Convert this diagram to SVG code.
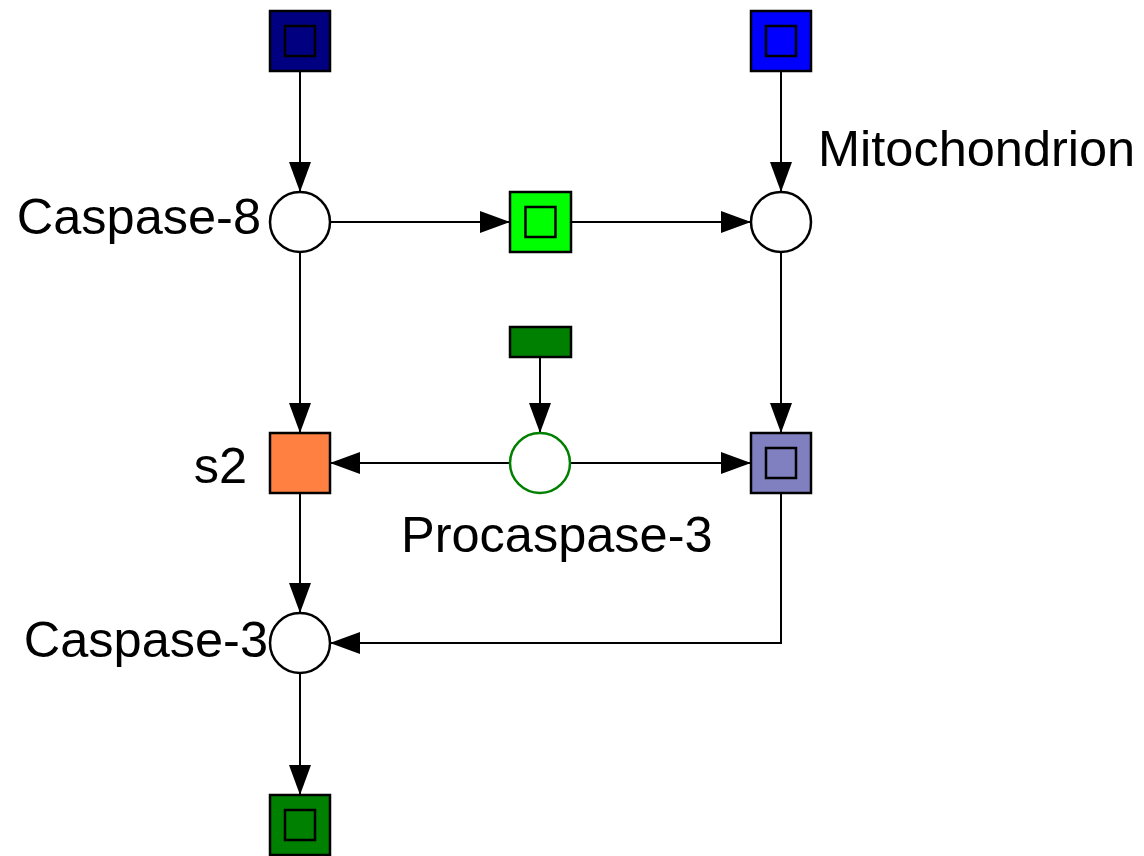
<svg xmlns="http://www.w3.org/2000/svg" width="1144" height="856" viewBox="0 0 1144 856">
<defs>
<style>
.sq{stroke:#000;stroke-width:2.5}
.in{fill:none;stroke:#000;stroke-width:2.5}
.pl{fill:#fff;stroke:#000;stroke-width:2.5}
.lbl{font-family:"Liberation Sans",Arial,sans-serif;font-size:50.5px;fill:#000}
.cn{fill:none;stroke:#000;stroke-width:2}
</style>
<marker id="ah" markerUnits="userSpaceOnUse" markerWidth="32" markerHeight="24" refX="30" refY="11" orient="auto">
<path d="M0,0 L30,11 L0,22 z" fill="#000"/>
</marker>
</defs>
<rect width="1144" height="856" fill="#fff"/>
<g id="connectors">
<path class="cn" d="M300,71 V192" marker-end="url(#ah)"/>
<path class="cn" d="M781,71 V192" marker-end="url(#ah)"/>
<path class="cn" d="M330,222 H510" marker-end="url(#ah)"/>
<path class="cn" d="M571,222 H751" marker-end="url(#ah)"/>
<path class="cn" d="M300,252 V433" marker-end="url(#ah)"/>
<path class="cn" d="M781,252 V433" marker-end="url(#ah)"/>
<path class="cn" d="M540,357 V433" marker-end="url(#ah)"/>
<path class="cn" d="M510,463 H330" marker-end="url(#ah)"/>
<path class="cn" d="M570,463 H751" marker-end="url(#ah)"/>
<path class="cn" d="M300,493 V613" marker-end="url(#ah)"/>
<path class="cn" d="M781,493 V643 H330" marker-end="url(#ah)"/>
<path class="cn" d="M300,673 V795" marker-end="url(#ah)"/>
</g>
<g id="t-top-left"><rect class="sq" x="270" y="11" width="60" height="60" fill="#000080"/><rect class="in" x="285" y="26" width="30" height="30"/></g>
<g id="t-top-right"><rect class="sq" x="751" y="11" width="60" height="60" fill="#0000ff"/><rect class="in" x="766" y="26" width="30" height="30"/></g>
<g id="caspase-8"><circle class="pl" cx="300" cy="222" r="30"/><text class="lbl" x="261" y="234" text-anchor="end">Caspase-8</text></g>
<g id="t-green"><rect class="sq" x="510" y="192" width="61" height="60" fill="#00ff00"/><rect class="in" x="525.5" y="207" width="30" height="30"/></g>
<g id="mitochondrion"><circle class="pl" cx="781" cy="222" r="30"/><text class="lbl" x="818" y="166">Mitochondrion</text></g>
<g id="t-darkgreen-bar"><rect class="sq" x="510" y="327" width="61" height="30" fill="#008000"/></g>
<g id="s2"><rect class="sq" x="270" y="433" width="60" height="60" fill="#ff8040"/><text class="lbl" x="247" y="483" text-anchor="end">s2</text></g>
<g id="procaspase-3"><circle cx="540" cy="463" r="30" fill="#fff" stroke="#008000" stroke-width="2.5"/><text class="lbl" x="401" y="552">Procaspase-3</text></g>
<g id="t-purple"><rect class="sq" x="751" y="433" width="60" height="60" fill="#8080c0"/><rect class="in" x="766" y="448" width="30" height="30"/></g>
<g id="caspase-3"><circle class="pl" cx="300" cy="643" r="30"/><text class="lbl" x="268" y="657" text-anchor="end">Caspase-3</text></g>
<g id="t-bottom"><rect class="sq" x="270" y="795" width="60" height="60" fill="#008000"/><rect class="in" x="285" y="810" width="30" height="30"/></g>
</svg>
